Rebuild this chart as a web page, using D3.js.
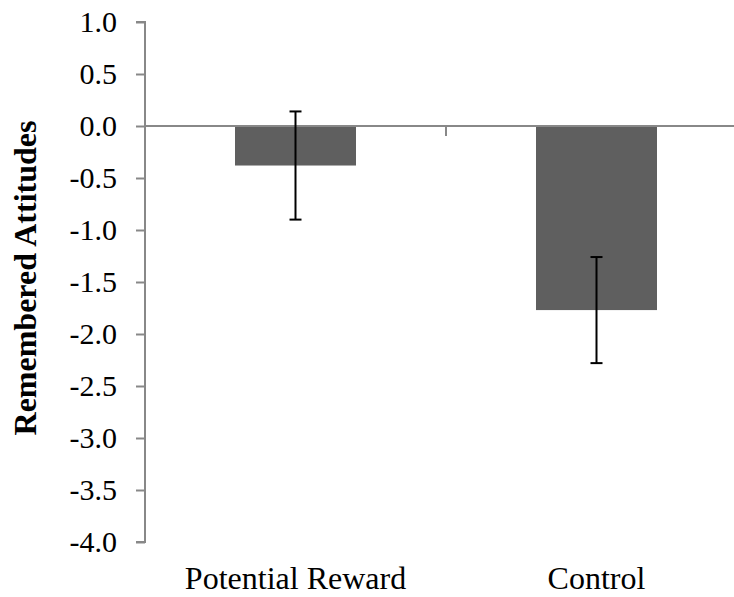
<!DOCTYPE html>
<html lang="en">
<head>
    <meta charset="UTF-8">
    <script src="https://cdn.jsdelivr.net/npm/d3@7"></script>
    <title>Remembered Attitudes</title>
    <style>
        body { margin: 0; background: #fff; }
        svg { display: block; }
        text { font-family: "Liberation Serif", "Times New Roman", Times, serif; }
    </style>
</head>
<body>
<script>
// values
let categories = ["Potential Reward", "Control"]
let means = [-0.38, -1.77]
let errors = [0.52, 0.51]
let yTicks = [1.0, 0.5, 0.0, -0.5, -1.0, -1.5, -2.0, -2.5, -3.0, -3.5, -4.0]

let width = 734
let height = 597
let serif = "Liberation Serif"

let svg = d3.select("body").append("svg")
    .attr("width", width)
    .attr("height", height)

let x = d3.scaleBand()
    .domain(categories)
    .range([145, 747])

let y = d3.scaleLinear()
    .domain([-4, 1])
    .range([542, 22])

let barWidth = 121
let axisColor = "#888888"

// y axis
let yAxis = svg.append("g")
    .attr("transform", "translate(145,0)")
    .call(d3.axisLeft(y).tickValues(yTicks).tickFormat(d3.format(".1f")).tickSize(9).tickPadding(19))
yAxis.attr("font-family", serif).attr("font-size", 30)
yAxis.select(".domain").attr("stroke", axisColor).attr("stroke-width", 2)
    .attr("d", "M-9," + y(1) + "H0V" + y(-4) + "H-9")
yAxis.selectAll(".tick line").attr("stroke", axisColor).attr("stroke-width", 2)
yAxis.selectAll(".tick text")
    .attr("fill", "#000")
    .text(d => d3.format(".1f")(d).replace("−", "-"))

// bars
svg.selectAll("rect.bar")
    .data(categories)
    .join("rect")
    .attr("class", "bar")
    .attr("x", d => x(d) + x.bandwidth() / 2 - barWidth / 2)
    .attr("width", barWidth)
    .attr("y", (d, i) => y(Math.max(0, means[i])))
    .attr("height", (d, i) => Math.abs(y(means[i]) - y(0)))
    .attr("fill", "#5f5f5f")

// zero line (category axis) with middle tick
svg.append("line")
    .attr("x1", 145).attr("x2", 747)
    .attr("y1", y(0)).attr("y2", y(0))
    .attr("stroke", axisColor).attr("stroke-width", 2)
svg.append("line")
    .attr("x1", x(categories[1])).attr("x2", x(categories[1]))
    .attr("y1", y(0)).attr("y2", y(0) + 10)
    .attr("stroke", axisColor).attr("stroke-width", 2)

// error bars
let eb = svg.selectAll("g.err")
    .data(categories)
    .join("g")
    .attr("class", "err")
    .attr("transform", d => "translate(" + (x(d) + x.bandwidth() / 2) + ",0)")
eb.append("line")
    .attr("y1", (d, i) => y(means[i] + errors[i]))
    .attr("y2", (d, i) => y(means[i] - errors[i]))
    .attr("stroke", "#000").attr("stroke-width", 2)
eb.append("line")
    .attr("x1", -6).attr("x2", 6)
    .attr("y1", (d, i) => y(means[i] + errors[i]))
    .attr("y2", (d, i) => y(means[i] + errors[i]))
    .attr("stroke", "#000").attr("stroke-width", 2)
eb.append("line")
    .attr("x1", -6).attr("x2", 6)
    .attr("y1", (d, i) => y(means[i] - errors[i]))
    .attr("y2", (d, i) => y(means[i] - errors[i]))
    .attr("stroke", "#000").attr("stroke-width", 2)

// category labels
svg.selectAll("text.cat")
    .data(categories)
    .join("text")
    .attr("class", "cat")
    .attr("x", d => x(d) + x.bandwidth() / 2)
    .attr("y", 589)
    .attr("text-anchor", "middle")
    .attr("font-family", serif)
    .attr("font-size", 32)
    .text(d => d)

// y title
svg.append("text")
    .attr("transform", "translate(36,278) rotate(-90)")
    .attr("text-anchor", "middle")
    .attr("font-family", serif)
    .attr("font-size", 32)
    .attr("font-weight", "bold")
    .text("Remembered Attitudes")
</script>
</body>
</html>
